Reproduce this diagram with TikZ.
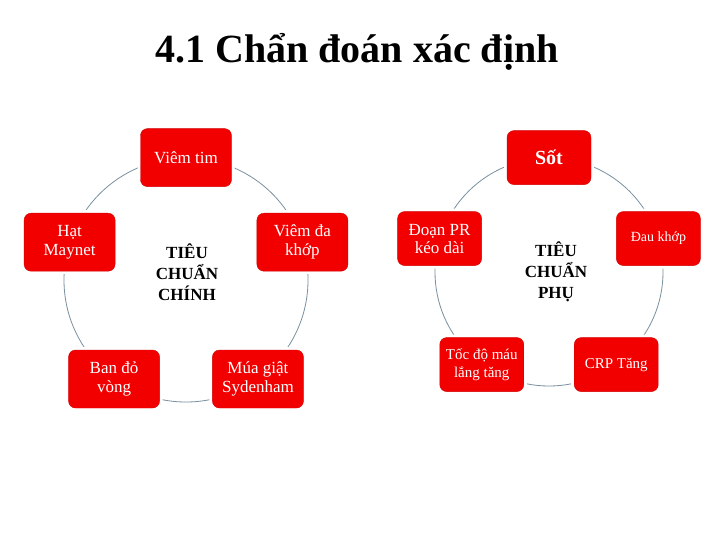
\documentclass[tikz,border=0pt]{standalone}
\usepackage{fontspec}
\setmainfont{Liberation Serif}
\usetikzlibrary{positioning,calc}
\definecolor{boxred}{HTML}{F20000}
\definecolor{boxedge}{HTML}{D40000}
\definecolor{ringline}{HTML}{7890A0}
\tikzset{
  ring/.style={circle,draw=ringline,line width=0.8pt,inner sep=0pt,minimum size=#1},
  crit/.style={rounded corners=7pt,fill=boxred,draw=boxedge,line width=0.4pt,text=white,
               align=center,inner sep=2pt,preaction={draw=white,line width=6pt}},
  hub/.style={font=\fontsize{17}{21}\selectfont\bfseries,align=center,text=black},
}
\begin{document}
\begin{tikzpicture}[x=1pt,y=-1pt]
  \useasboundingbox[fill=white] (0,0) rectangle (720,540);
  % Title
  \node[font=\fontsize{40}{48}\selectfont\bfseries,anchor=base] (title) at (357,63)
    {4.1 Chẩn đoán xác định};
  % Major criteria
  \node[ring=244pt] (ringL) at (186,280) {};
  \foreach \ang/\lab [count=\k] in {90/Viêm tim,18/{Viêm đa\\khớp},-54/{Múa giật\\Sydenham},
      234/{Ban đỏ\\vòng},162/{Hạt\\Maynet}}{
    \node[crit,minimum width=91pt,minimum height=58pt,font=\fontsize{17}{19}\selectfont]
      (maj\k) at (ringL.\ang) {\lab};
  }
  \node[hub] (majT) at (187,272) {TIÊU\\CHUẨN\\CHÍNH};
  % Minor criteria
  \node[ring=228pt] (ringR) at (549,272) {};
  \foreach \ang/\lab/\fs [count=\k] in {90/{\bfseries Sốt}/20,17/Đau khớp/14,-54/CRP Tăng/15,
      234/{Tốc độ máu\\lắng tăng}/15,163/{Đoạn PR\\kéo dài}/17}{
    \node[crit,minimum width=84pt,minimum height=54pt,font=\fontsize{\fs}{18}\selectfont]
      (min\k) at (ringR.\ang) {\lab};
  }
  \node[hub] (minT) at (556,272) {TIÊU\\CHUẨN\\PHỤ};
\end{tikzpicture}
\end{document}
